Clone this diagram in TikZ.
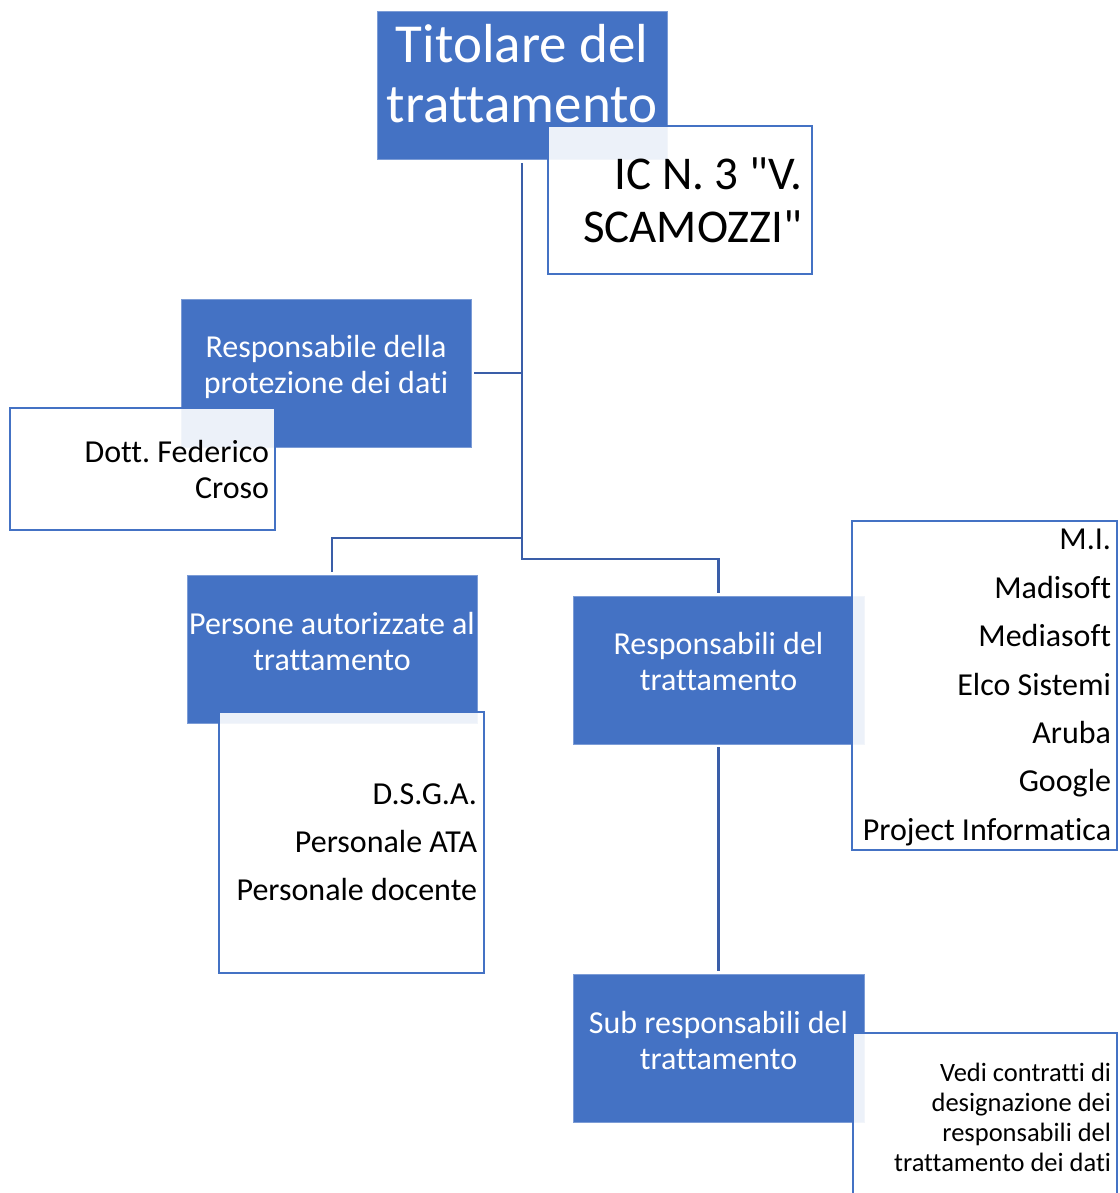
\documentclass[tikz,border=0pt]{standalone}
\usepackage{fontspec}
\setmainfont{Carlito}[Ligatures={TeXOff, CommonOff}]
\usepackage{tikz}
\usetikzlibrary{positioning}
\definecolor{boxblue}{HTML}{4472C4}
\definecolor{lineblue}{HTML}{3A5EA8}
\frenchspacing
\tikzset{
	bluebox/.style={rectangle, fill=boxblue, draw=boxblue!70!white, line width=1, minimum width=290, minimum height=148, inner sep=0},
	whitebox/.style={rectangle, fill=white, fill opacity=0.9, draw=boxblue, draw opacity=1, line width=2.5, minimum width=265, inner sep=0},
	bluetxt/.style={text=white, align=center, inner sep=0, font=\fontsize{32}{36}\selectfont},
	blacktxt/.style={text=black, align=right, inner sep=0, anchor=east, font=\fontsize{32}{36}\selectfont},
	conn/.style={draw=lineblue, line width=2.7, shorten <=2.5pt, shorten >=2.5pt},
}

\begin{document}
\begin{tikzpicture}[x=1pt, y=-1pt, >=latex]
		%\draw [help lines] (0,0) grid (1119,1193);
		\path[use as bounding box, clip] (0,0) rectangle (1119,1193);
		% blue boxes
		\node[bluebox] (tit) at (522,86) {};
		\node[bluebox] (dpo) at (326,373) {};
		\node[bluebox] (pers) at (332,649) {};
		\node[bluebox, minimum width=291] (resp) at (718.5,670) {};
		\node[bluebox, minimum width=291] (sub) at (718.5,1048) {};
		% white boxes
		\node[whitebox, minimum width=264, minimum height=148] (ic) at (680,200) {};
		\node[whitebox, minimum height=122] (dott) at (142.5,469) {};
		\node[whitebox, minimum height=261] (staff) at (351.5,842.5) {};
		\node[whitebox, minimum height=329] (forn) at (984.5,685.5) {};
		\node[whitebox, minimum width=264, minimum height=190] (vedi) at (985,1128) {};
		% texts
		\node[bluetxt, font=\fontsize{55}{60}\selectfont] (tit-t) at ([yshift=-62pt]tit.north) {Titolare del\\trattamento};
		\node[bluetxt] (dpo-t) at ([yshift=-68pt]dpo.north) {Responsabile della\\protezione dei dati};
		\node[bluetxt] (pers-t) at ([yshift=-67pt]pers.north) {Persone autorizzate al\\trattamento};
		\node[bluetxt] (resp-t) at ([yshift=-66pt]resp.north) {Responsabili del\\trattamento};
		\node[bluetxt] (sub-t) at ([yshift=-67pt]sub.north) {Sub responsabili del\\trattamento};
		\node[blacktxt, font=\fontsize{47}{53}\selectfont] (ic-t) at ([xshift=-11pt]ic.east) {IC N. 3 "V.\\SCAMOZZI"};
		\node[blacktxt] (dott-t) at ([xshift=-7pt, yshift=-1pt]dott.east) {Dott. Federico\\Croso};
		\node[blacktxt, font=\fontsize{32}{48}\selectfont] (staff-t) at ([xshift=-8pt, yshift=0pt]staff.east) {D.S.G.A.\\Personale ATA\\Personale docente};
		\node[blacktxt, font=\fontsize{32}{48.4}\selectfont] (forn-t) at ([xshift=-7pt, yshift=-2pt]forn.east) {M.I.\\Madisoft\\Mediasoft\\Elco Sistemi\\Aruba\\Google\\Project Informatica};
		\node[blacktxt, font=\fontsize{26.5}{30}\selectfont] (vedi-t) at ([xshift=-7pt, yshift=-86pt]vedi.north east) {Vedi contratti di\\designazione dei\\responsabili del\\trattamento dei dati};
		% connectors
		\coordinate (lfork) at (522,538);
		\coordinate (rfork) at (522,559);
		\draw[conn] (tit.south) -- (rfork) -| (resp.north);
		\draw[conn, shorten <=0pt] (lfork) -| (pers.north);
		\draw[conn, shorten >=0pt] (dpo.east) -- (dpo.east -| tit.south);
		\draw[conn] (resp.south) -- (sub.north);
	\end{tikzpicture}
\end{document}
